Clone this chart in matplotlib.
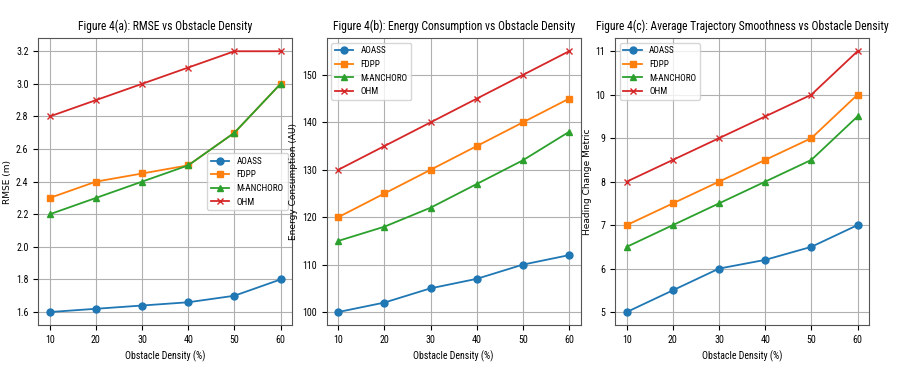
import matplotlib
matplotlib.use("Agg")
import matplotlib.pyplot as plt

density = [10, 20, 30, 40, 50, 60]
methods = ["AOASS", "FDPP", "M-ANCHORO", "OHM"]
markers = ["o", "s", "^", "x"]

rmse_aoass = [1.6, 1.62, 1.64, 1.66, 1.7, 1.8]
rmse_fdpp = [2.3, 2.4, 2.45, 2.5, 2.7, 3.0]
rmse_manchoro = [2.2, 2.3, 2.4, 2.5, 2.7, 3.0]
rmse_ohm = [2.8, 2.9, 3.0, 3.1, 3.2, 3.2]

energy_aoass = [100, 102, 105, 107, 110, 112]
energy_fdpp = [120, 125, 130, 135, 140, 145]
energy_manchoro = [115, 118, 122, 127, 132, 138]
energy_ohm = [130, 135, 140, 145, 150, 155]

smooth_aoass = [5, 5.5, 6, 6.2, 6.5, 7]
smooth_fdpp = [7, 7.5, 8, 8.5, 9, 10]
smooth_manchoro = [6.5, 7, 7.5, 8, 8.5, 9.5]
smooth_ohm = [8, 8.5, 9, 9.5, 10, 11]

titles = ["Figure 4(a): RMSE vs Obstacle Density",
          "Figure 4(b): Energy Consumption vs Obstacle Density",
          "Figure 4(c): Average Trajectory Smoothness vs Obstacle Density"]
ylabels = ["RMSE (m)", "Energy Consumption (AU)", "Heading Change Metric"]
xlabel = "Obstacle Density (%)"

panels = [
    [rmse_aoass, rmse_fdpp, rmse_manchoro, rmse_ohm],
    [energy_aoass, energy_fdpp, energy_manchoro, energy_ohm],
    [smooth_aoass, smooth_fdpp, smooth_manchoro, smooth_ohm],
]
legend_locs = ["center right", "upper left", "upper left"]

cond = ["Roboto Condensed", "Archivo Narrow", "PT Sans Narrow", "DejaVu Sans"]

fig = plt.figure(figsize=(9.1, 3.82), dpi=100)
lefts = [0.042, 0.359, 0.676]
width = 0.279
for i, (series, left) in enumerate(zip(panels, lefts)):
    ax = fig.add_axes([left, 0.149, width, 0.751])
    for vals, name, mk in zip(series, methods, markers):
        ax.plot(density, vals, marker=mk, label=name, markersize=5, linewidth=1.3)
    ax.set_title(titles[i], fontsize=8.4, family=cond)
    ax.set_xlabel(xlabel, fontsize=7.1, family=cond)
    ax.set_ylabel(ylabels[i], fontsize=6.5, labelpad=3, family="DejaVu Sans")
    ax.grid(True, color="#b0b0b0", linewidth=0.8)
    ax.set_xticks(density)
    ax.tick_params(labelsize=7.2)
    for lbl in ax.get_xticklabels() + ax.get_yticklabels():
        lbl.set_family(cond)
    for s in ax.spines.values():
        s.set_edgecolor("#555555")
    ax.legend(loc=legend_locs[i], prop={"family": cond, "size": 6.6})

fig.savefig("out.png", dpi=100)
